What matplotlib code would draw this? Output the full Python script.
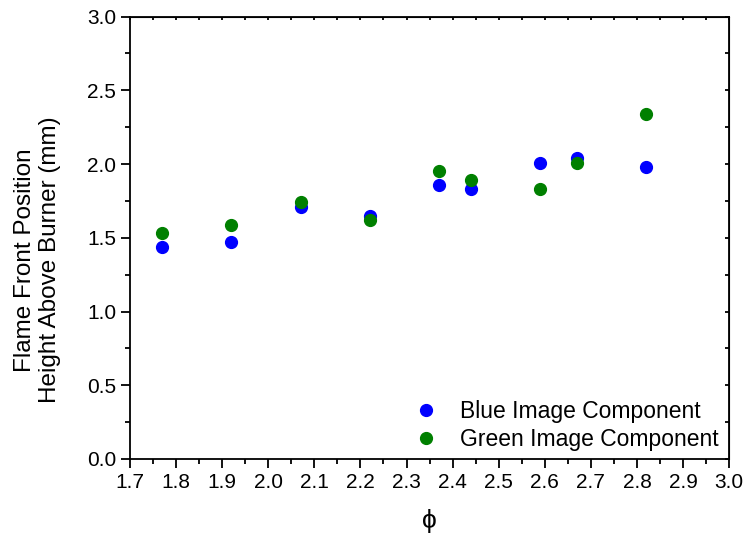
import matplotlib
matplotlib.use("Agg")
import matplotlib.pyplot as plt
from matplotlib.ticker import MultipleLocator

plt.rcParams['font.family'] = ['Liberation Sans', 'DejaVu Sans']

phi = [1.77, 1.92, 2.07, 2.22, 2.37, 2.44, 2.59, 2.67, 2.82]
blue_hab = [1.44, 1.47, 1.71, 1.65, 1.86, 1.83, 2.01, 2.04, 1.98]
green_hab = [1.53, 1.59, 1.74, 1.62, 1.95, 1.89, 1.83, 2.01, 2.34]

fig = plt.figure(figsize=(7.44, 5.36), dpi=100)
ax = fig.add_axes([0.1747, 0.1437, 0.8053, 0.8253])

ax.plot(phi, blue_hab, 'o', color='#0000ff', markersize=8.5, label='Blue Image Component')
ax.plot(phi, green_hab, 'o', color='#008000', markersize=8.5, label='Green Image Component')

ax.set_xlim(1.7, 3.0)
ax.set_ylim(0, 3.0)
ax.xaxis.set_major_locator(MultipleLocator(0.1))
ax.xaxis.set_minor_locator(MultipleLocator(0.05))
ax.yaxis.set_major_locator(MultipleLocator(0.5))
ax.yaxis.set_minor_locator(MultipleLocator(0.25))
ax.xaxis.set_major_formatter(plt.FormatStrFormatter('%.1f'))
ax.yaxis.set_major_formatter(plt.FormatStrFormatter('%.1f'))

for s in ax.spines.values():
    s.set_linewidth(1.3)
ax.tick_params(which='major', direction='out', length=6.5, width=1.3, labelsize=15)
ax.tick_params(which='minor', direction='out', length=3.5, width=1.3)
ax.tick_params(which='both', top=False, right=False)

# inward ticks on the top and right spines
ax2 = ax.secondary_xaxis('top')
ax2.xaxis.set_major_locator(MultipleLocator(0.05))
ax2.tick_params(direction='in', length=2.5, width=1.3, labeltop=False)
ax3 = ax.secondary_yaxis('right')
ax3.yaxis.set_major_locator(MultipleLocator(0.25))
ax3.tick_params(direction='in', length=3, width=1.3, labelright=False)

ax.set_xlabel('ϕ', fontsize=19, labelpad=12)
ax.set_ylabel('Flame Front Position\nHeight Above Burner (mm)', fontsize=17.5)
ax.yaxis.set_label_coords(-0.115, 0.45)

ax.legend(loc='lower right', frameon=False, fontsize=16.5, handletextpad=0.5,
          borderaxespad=0.3, labelspacing=0.22, bbox_to_anchor=(1.01, -0.018))

fig.savefig('out.png', dpi=100)
